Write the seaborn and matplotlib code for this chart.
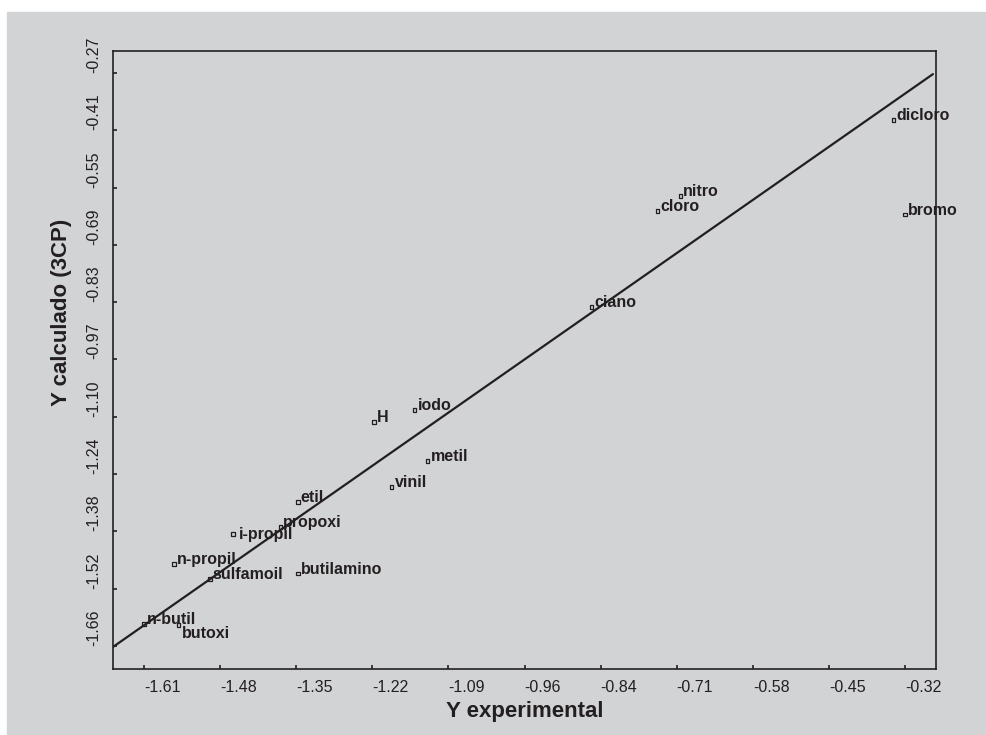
import numpy as np
import pandas as pd
import matplotlib
matplotlib.use("Agg")
import matplotlib.pyplot as plt
from matplotlib.patches import Rectangle
import seaborn as sns

# datos
sustituyentes = ["dicloro", "bromo", "nitro", "cloro", "ciano", "iodo", "H",
                 "metil", "vinil", "etil", "propoxi", "i-propil", "n-propil",
                 "sulfamoil", "butilamino", "n-butil", "butoxi"]
y_experimental = [-0.340, -0.320, -0.701, -0.740, -0.851, -1.151, -1.220,
                  -1.129, -1.190, -1.349, -1.379, -1.459, -1.559,
                  -1.498, -1.349, -1.610, -1.551]
y_calculado = [-0.384, -0.614, -0.568, -0.605, -0.838, -1.088, -1.117,
               -1.211, -1.274, -1.311, -1.371, -1.388, -1.461,
               -1.498, -1.485, -1.607, -1.609]
linea_ideal = [-1.6625, -0.2727]

xtick_labels = ["-1.61", "-1.48", "-1.35", "-1.22", "-1.09", "-0.96",
                "-0.84", "-0.71", "-0.58", "-0.45", "-0.32"]
ytick_labels = ["-1.66", "-1.52", "-1.38", "-1.24", "-1.10", "-0.97",
                "-0.83", "-0.69", "-0.55", "-0.41", "-0.27"]

df = pd.DataFrame({"sust": sustituyentes, "x": y_experimental, "y": y_calculado})

GRIS = "#d2d3d5"
NEGRO = "#231f20"

sns.set_theme(style="white")
plt.rcParams["font.family"] = ["Liberation Sans", "DejaVu Sans"]

fig = plt.figure(figsize=(9.87, 7.35), dpi=100, facecolor="white")
fondo = Rectangle((7 / 987, 0), 1, (735 - 12) / 735,
                  transform=fig.transFigure, color=GRIS, zorder=-10)
fig.patches.append(fondo)
ax = fig.add_axes([113 / 987, 1 - 669 / 735, (936 - 113) / 987, (669 - 51) / 735])
ax.set_zorder(1)
ax.set_facecolor(GRIS)

# recta y = x
sns.lineplot(x=linea_ideal, y=linea_ideal, ax=ax, color=NEGRO, linewidth=1.6)
sns.scatterplot(data=df, x="x", y="y", ax=ax, marker="s", s=6,
                facecolors="none", edgecolor=NEGRO, linewidth=0.9, zorder=3)

# etiquetas: casi todas arriba a la derecha del punto
for _, r in df.iterrows():
    off, va = (2, 0), "baseline"
    if r["sust"] == "i-propil":
        off = (4, -4)
    elif r["sust"] == "butoxi":
        off, va = (2, -1), "top"
    ax.annotate(r["sust"], (r["x"], r["y"]), xytext=off, textcoords="offset points",
                ha="left", va=va, fontsize=11.5, fontweight="bold", color=NEGRO)

ax.set_xlim(-1.6625, -0.2675)
ax.set_ylim(-1.716, -0.2166)
ax.set_xticks(np.linspace(-1.61, -0.32, 11))
ax.set_xticklabels(xtick_labels, ha="left")
ax.set_yticks(np.linspace(-1.66, -0.27, 11))
ax.set_yticklabels(ytick_labels, rotation=90, va="bottom", ha="center")
ax.tick_params(axis="both", direction="in", length=3, width=1.2, colors=NEGRO,
               labelsize=11.5, bottom=True, left=True, top=False, right=False)
ax.tick_params(axis="x", pad=8)
ax.tick_params(axis="y", pad=14)

for s in ax.spines.values():
    s.set_color(NEGRO)
    s.set_linewidth(1.2)

ax.set_xlabel("Y experimental", fontsize=16, fontweight="bold", color=NEGRO)
ax.set_ylabel("Y calculado (3CP)", fontsize=16, fontweight="bold", color=NEGRO)
ax.xaxis.set_label_coords((525 - 113) / 823, -(711 - 669) / 618)
ax.yaxis.set_label_coords(-(113 - 61) / 823, (669 - 312) / 618)
ax.xaxis.label.set_va("center")
ax.yaxis.label.set_va("center")

fig.savefig("out.png", dpi=100, facecolor=fig.get_facecolor())
